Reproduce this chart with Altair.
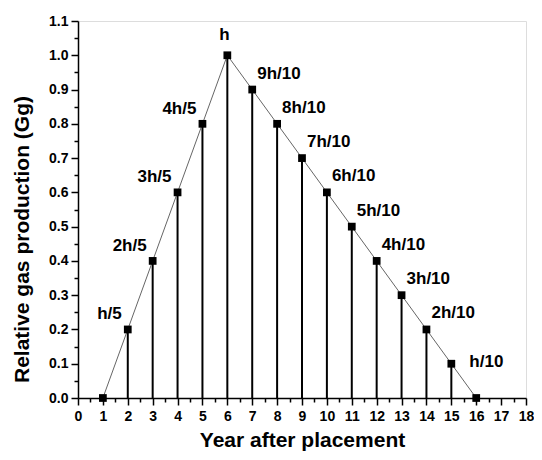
import altair as alt
import pandas as pd

years = list(range(1, 17))
values = [0.0, 0.2, 0.4, 0.6, 0.8, 1.0, 0.9, 0.8, 0.7, 0.6, 0.5, 0.4, 0.3, 0.2, 0.1, 0.0]
labels = ["", "h/5", "2h/5", "3h/5", "4h/5", "h", "9h/10", "8h/10", "7h/10",
          "6h/10", "5h/10", "4h/10", "3h/10", "2h/10", "h/10", ""]

df = pd.DataFrame({"year": years, "value": values, "label": labels})

x_ticks = [i * 0.5 for i in range(37)]
y_ticks = [round(i * 0.05, 2) for i in range(23)]

FONT = "Liberation Sans"

x_enc = alt.X(
    "year:Q",
    scale=alt.Scale(domain=[0, 18], nice=False),
    axis=alt.Axis(
        title="Year after placement",
        values=x_ticks,
        labelExpr="datum.value % 1 == 0 ? format(datum.value, 'd') : ''",
        tickSize={"condition": {"test": "datum.value % 1 == 0", "value": 7}, "value": 4},
        grid=False,
        labelFont=FONT, labelFontWeight="bold", labelFontSize=14, labelColor="black",
        titleFont=FONT, titleFontWeight="bold", titleFontSize=21, titleColor="black",
        domainColor="black", tickColor="black", domainWidth=1.5, tickWidth=1.5,
        labelPadding=4, titlePadding=6, labelFlush=False, labelOverlap=False,
    ),
)
y_enc = alt.Y(
    "value:Q",
    scale=alt.Scale(domain=[0, 1.1], nice=False),
    axis=alt.Axis(
        title="Relative gas production (Gg)",
        values=y_ticks,
        labelExpr="round(datum.value * 100) % 10 == 0 ? format(datum.value, '.1f') : ''",
        tickSize={"condition": {"test": "round(datum.value * 100) % 10 == 0", "value": 7}, "value": 4},
        grid=False,
        labelFont=FONT, labelFontWeight="bold", labelFontSize=14, labelColor="black",
        titleFont=FONT, titleFontWeight="bold", titleFontSize=21, titleColor="black",
        domainColor="black", tickColor="black", domainWidth=1.5, tickWidth=1.5,
        labelPadding=3, titlePadding=16, titleY=218, labelFlush=False, labelOverlap=False,
    ),
)

base = alt.Chart(df).encode(x=x_enc, y=y_enc)

drops = base.mark_rule(color="black", strokeWidth=2).encode(y2=alt.datum(0))
line = base.mark_line(color="#666666", strokeWidth=1)
points = base.mark_square(color="black", size=60, opacity=1)

text_style = dict(font=FONT, fontWeight="bold", fontSize=17, color="black", baseline="middle")

asc = base.transform_filter("datum.year >= 2 && datum.year <= 5").mark_text(
    align="right", dx=-6, dy=-15, **text_style
).encode(text="label:N")
peak = base.transform_filter("datum.year == 6").mark_text(
    align="center", dx=-3, dy=-20, **text_style
).encode(text="label:N")
desc = base.transform_filter("datum.year >= 7 && datum.year <= 14").mark_text(
    align="left", dx=5, dy=-16, **text_style
).encode(text="label:N")
last = base.transform_filter("datum.year == 15").mark_text(
    align="left", dx=18, dy=-2, **text_style
).encode(text="label:N")

chart = alt.layer(drops, line, points, asc, peak, desc, last).properties(
    width=448, height=377,
    autosize=alt.AutoSizeParams(type="none"),
    padding={"left": 70, "top": 13, "right": 8, "bottom": 54},
).configure_view(stroke=None).configure(background="white")

chart.save("out.html", embed_options={"renderer": "svg", "actions": False})
